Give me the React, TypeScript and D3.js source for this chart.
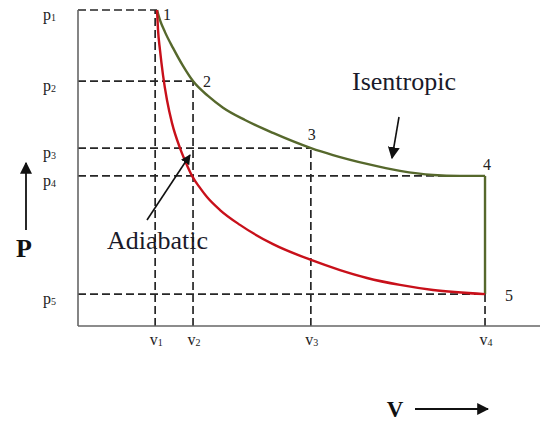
import React from 'react';
import * as d3 from 'd3';

// state points (arbitrary units, V and P on 0..10)
const vTicks = [1.67, 2.49, 5.04, 8.81];
const vLabels = ['1', '2', '3', '4'];
const pTicks = [10, 7.75, 5.63, 4.75, 1.01];
const pLabels = ['1', '2', '3', '4', '5'];

// how far each p-line runs to the right (V) and each v-line runs up (P)
const pLineEnds = [1.71, 2.49, 5.04, 8.81, 8.81];
const vLineEnds = [10, 7.75, 5.63, 1.01];

const isentropic: [number, number][] = [
  [1.71, 10.0], [1.775, 9.68], [1.883, 9.3], [2.056, 8.8], [2.273, 8.23],
  [2.489, 7.75], [2.814, 7.28], [3.139, 6.91], [3.615, 6.52], [4.221, 6.11],
  [5.043, 5.63], [5.519, 5.41], [6.255, 5.13], [6.97, 4.91], [7.684, 4.78],
  [8.268, 4.75], [8.81, 4.75],
];
const adiabatic: [number, number][] = [
  [1.71, 10.0], [1.732, 9.37], [1.775, 8.73], [1.84, 7.94], [1.926, 7.15],
  [2.035, 6.42], [2.208, 5.63], [2.338, 5.16], [2.468, 4.75], [2.641, 4.37],
  [2.792, 4.08], [3.074, 3.67], [3.506, 3.2], [4.221, 2.59], [5.043, 2.09],
  [5.671, 1.77], [6.255, 1.52], [6.97, 1.3], [7.684, 1.14], [8.81, 1.01],
];
const pointNames = ['1', '2', '3', '4', '5'];
const pointAt: [number, number][] = [[1.71, 10], [2.49, 7.75], [5.04, 5.63], [8.81, 4.75], [8.81, 1.01]];

const W = 540;
const H = 421;
const serif = '"Liberation Serif", "DejaVu Serif", serif';
const green = '#56682c';
const red = '#c8101a';

export default function App() {
  const x = d3.scaleLinear().domain([0, 10]).range([78, 540]);
  const y = d3.scaleLinear().domain([0, 10]).range([326, 10]);
  const line = d3.line<[number, number]>()
    .x(d => x(d[0]))
    .y(d => y(d[1]))
    .curve(d3.curveMonotoneX);

  const dash = { stroke: '#262626', strokeWidth: 1.7, strokeDasharray: '8,4', fill: 'none' };
  // label nudges from each state point to the text baseline
  const labelOffsets = [[6, 10], [10, 6], [-3, -8], [-2, -6], [20, 7]];

  return (
    <svg width={W} height={H} style={{ position: 'absolute', left: 0, top: 0, background: '#fff' }}>
      <defs>
        <marker id="ah" viewBox="0 0 10 10" refX="9" refY="5" markerWidth="12" markerHeight="12"
          markerUnits="userSpaceOnUse" orient="auto">
          <path d="M0,0 L10,5 L0,10 Z" fill="#111" />
        </marker>
        <marker id="ahs" viewBox="0 0 10 10" refX="9" refY="5" markerWidth="10" markerHeight="10"
          markerUnits="userSpaceOnUse" orient="auto">
          <path d="M0,0 L10,5 L0,10 Z" fill="#111" />
        </marker>
      </defs>

      {/* dashed guide lines */}
      {pTicks.map((p, i) => (
        <line key={'ph' + i} x1={x(0)} x2={x(pLineEnds[i])} y1={y(p)} y2={y(p)} {...dash} />
      ))}
      {vTicks.map((v, i) => (
        <line key={'vv' + i} x1={x(v)} x2={x(v)} y1={y(0)} y2={y(vLineEnds[i])} {...dash} />
      ))}

      {/* axes */}
      <line x1={x(0)} x2={x(0)} y1={y(0)} y2={y(10)} stroke="#666" strokeWidth={1.6} />
      <line x1={x(0)} x2={x(10)} y1={y(0)} y2={y(0)} stroke="#666" strokeWidth={1.6} />

      {/* curves */}
      <path d={line(isentropic) ?? ''} fill="none" stroke={green} strokeWidth={2.4} />
      <line x1={x(8.81)} x2={x(8.81)} y1={y(4.75)} y2={y(1.01)} stroke={green} strokeWidth={2.4} />
      <path d={line(adiabatic) ?? ''} fill="none" stroke={red} strokeWidth={2.4} />

      {/* tick labels */}
      {pTicks.map((p, i) => (
        <text key={'pl' + i} x={43} y={y(p) + 10} fontFamily={serif} fontSize={16} fill="#222">
          p<tspan fontSize={10} dy={1}>{pLabels[i]}</tspan>
        </text>
      ))}
      {vTicks.map((v, i) => (
        <text key={'vl' + i} x={x(v) + 1} y={345} fontFamily={serif} fontSize={16} fill="#222" textAnchor="middle">
          v<tspan fontSize={10} dy={1}>{vLabels[i]}</tspan>
        </text>
      ))}

      {/* state point numbers */}
      {pointAt.map((pt, i) => (
        <text key={'n' + i} x={x(pt[0]) + labelOffsets[i][0]} y={y(pt[1]) + labelOffsets[i][1]}
          fontFamily={serif} fontSize={16} fill="#222">{pointNames[i]}</text>
      ))}

      {/* annotations */}
      <text x={352} y={90} fontFamily={serif} fontSize={26} fill="#1a1a2a">Isentropic</text>
      <line x1={399} y1={117} x2={392} y2={158} stroke="#111" strokeWidth={1.6} markerEnd="url(#ah)" />
      <text x={107} y={249} fontFamily={serif} fontSize={26} fill="#1a1a2a">Adiabatic</text>
      <line x1={147} y1={220} x2={190} y2={155} stroke="#111" strokeWidth={1.6} markerEnd="url(#ahs)" />

      {/* axis titles */}
      <line x1={26} y1={230} x2={26} y2={163} stroke="#111" strokeWidth={1.8} markerEnd="url(#ah)" />
      <text x={24} y={257} fontFamily={serif} fontSize={26} fontWeight="bold" textAnchor="middle" fill="#111">P</text>
      <text x={395} y={417} fontFamily={serif} fontSize={23} fontWeight="bold" textAnchor="middle" fill="#111">V</text>
      <line x1={415} y1={409} x2={488} y2={409} stroke="#111" strokeWidth={1.8} markerEnd="url(#ah)" />
    </svg>
  );
}
